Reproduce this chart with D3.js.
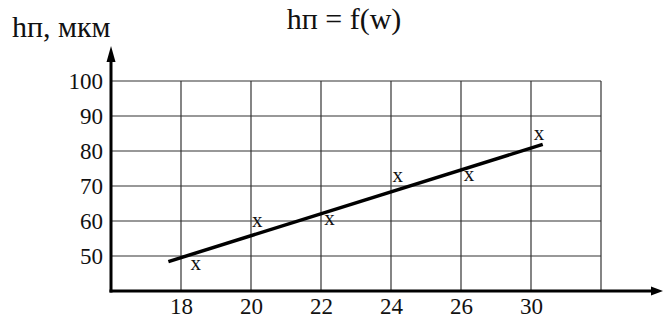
<!DOCTYPE html>
<html>
<head>
<meta charset="utf-8">
<script src="https://cdn.jsdelivr.net/npm/d3@7/dist/d3.min.js"></script>
<style>
  html, body { margin: 0; padding: 0; background: #fff; }
  svg { display: block; }
</style>
</head>
<body>
<script>
// Axis breakpoints (w); the grid is evenly spaced, so 26 -> 30 occupies one cell
const wGrid = [16, 18, 20, 22, 24, 26, 30, 34];
const wTickLabels = [18, 20, 22, 24, 26, 30];
const hTicks = [50, 60, 70, 80, 90, 100];

// Measured points: w and hп (мкм)
const wPoints = [18.42, 20.18, 22.24, 24.19, 26.46, 30.46];
const hPoints = [47.4, 59.6, 60.1, 72.5, 72.9, 84.6];

// Approximating line endpoints
const wFit = [17.64, 30.67];
const hFit = [48.4, 81.9];

const W = 663, H = 322;
const plotLeft = 111, step = 70, plotBottom = 291, plotTop = 81;
const FONT = "'Liberation Serif', serif";

const svg = d3.select("body").append("svg")
  .attr("width", W).attr("height", H);

const x = d3.scaleLinear()
  .domain(wGrid)
  .range(wGrid.map((d, i) => plotLeft + i * step));
const y = d3.scaleLinear().domain([40, 100]).range([plotBottom, plotTop]);

const xMax = x(wGrid[wGrid.length - 1]);

// grid
const grid = svg.append("g").attr("stroke", "#333").attr("stroke-width", 1.2);
grid.selectAll("line.v").data(wGrid.slice(1)).join("line")
  .attr("class", "v")
  .attr("x1", d => x(d)).attr("x2", d => x(d))
  .attr("y1", y(100)).attr("y2", plotBottom);
grid.selectAll("line.h").data(hTicks).join("line")
  .attr("class", "h")
  .attr("x1", plotLeft).attr("x2", xMax)
  .attr("y1", d => y(d)).attr("y2", d => y(d));

// axes with arrows
svg.append("line")
  .attr("x1", plotLeft - 1.5).attr("x2", 652)
  .attr("y1", plotBottom).attr("y2", plotBottom)
  .attr("stroke", "#000").attr("stroke-width", 3);
svg.append("path")
  .attr("d", `M663,${plotBottom} L651,${plotBottom - 4.5} L651,${plotBottom + 4.5} Z`)
  .attr("fill", "#000");
svg.append("line")
  .attr("x1", plotLeft).attr("x2", plotLeft)
  .attr("y1", plotBottom + 1.5).attr("y2", 60)
  .attr("stroke", "#000").attr("stroke-width", 3);
svg.append("path")
  .attr("d", `M${plotLeft},46 L${plotLeft - 4.5},62 L${plotLeft + 4.5},62 Z`)
  .attr("fill", "#000");

// tick labels
svg.append("g").selectAll("text").data(hTicks).join("text")
  .attr("x", 103).attr("y", d => y(d) + 8)
  .attr("text-anchor", "end")
  .attr("font-family", FONT)
  .attr("font-size", 23)
  .attr("fill", "#111")
  .text(d => d);
svg.append("g").selectAll("text").data(wTickLabels).join("text")
  .attr("x", d => x(d) + 0.5).attr("y", 313.5)
  .attr("text-anchor", "middle")
  .attr("font-family", FONT)
  .attr("font-size", 23)
  .attr("fill", "#111")
  .text(d => d);

// approximating line
svg.append("path")
  .datum(d3.zip(wFit, hFit))
  .attr("d", d3.line().x(d => x(d[0])).y(d => y(d[1])))
  .attr("fill", "none")
  .attr("stroke", "#000")
  .attr("stroke-width", 3.5);

// measured points drawn as "x"
svg.append("g").selectAll("text").data(d3.zip(wPoints, hPoints)).join("text")
  .attr("x", d => x(d[0])).attr("y", d => y(d[1]) + 4.7)
  .attr("text-anchor", "middle")
  .attr("font-family", FONT)
  .attr("font-size", 21)
  .attr("fill", "#111")
  .text("x");

// titles
svg.append("text")
  .attr("x", 344).attr("y", 29)
  .attr("text-anchor", "middle")
  .attr("font-family", FONT)
  .attr("font-size", 30)
  .attr("fill", "#111")
  .text("hп = f(w)");
svg.append("text")
  .attr("x", 12).attr("y", 37)
  .attr("font-family", FONT)
  .attr("font-size", 30)
  .attr("fill", "#111")
  .text("hп, мкм");
</script>
</body>
</html>
